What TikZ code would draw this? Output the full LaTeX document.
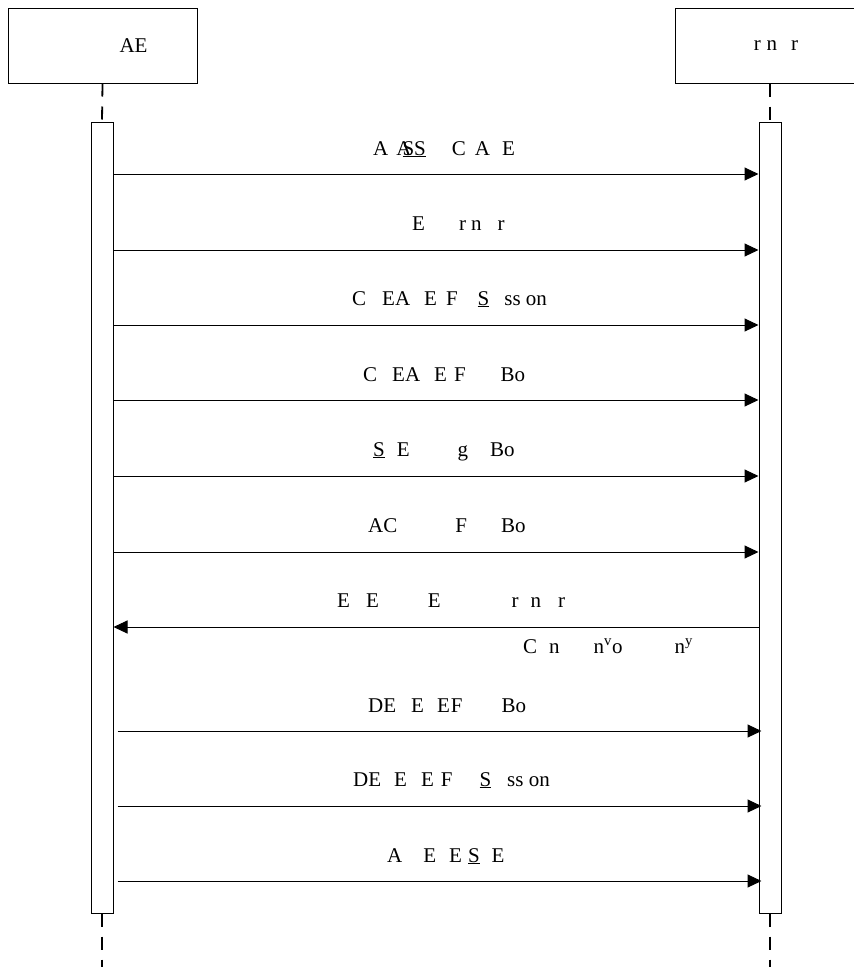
\documentclass[tikz,border=0pt]{standalone}
\usepackage{fontspec}
\setmainfont{Liberation Serif}
\usetikzlibrary{arrows.meta}

\begin{document}
\begin{tikzpicture}[inner sep=0pt,
  lifebox/.style={draw, line width=1.0pt, minimum width=189pt, minimum height=75pt, align=center, font=\fontsize{21}{24}\selectfont},
  actbar/.style={draw, fill=white, line width=1.0pt, minimum width=22pt, minimum height=791pt},
  lifeline/.style={line width=1.8pt, dash pattern=on 13pt off 10pt},
  msg/.style={-{Triangle[length=14pt,width=13pt]}, line width=1.0pt},
  lbl/.style={anchor=base west, font=\fontsize{21}{24}\selectfont}]
\useasboundingbox (0pt,0pt) rectangle (854pt,-967pt);
% heads and activation bars
\node (n0) [lifebox, at={(102.5pt,-45.5pt)}] {\hspace*{62pt}AE};
\node (n1) [lifebox, at={(770pt,-45.5pt)}] {\hspace*{12pt}r\hspace{6pt}n\hspace{14pt}r};
\node (n2) [actbar, at={(102pt,-517.5pt)}] {};
\node (n3) [actbar, at={(770pt,-517.5pt)}] {};
\coordinate (e0) at (102pt,-967pt);
\coordinate (e1) at (770pt,-967pt);
\path [lifeline,draw,](n0.south)--(n2.north);
\path [lifeline,draw,](n1.south)--(n3.north);
\path [lifeline,draw,](n2.south)--(e0);
\path [lifeline,draw,](n3.south)--(e1);
% message heights
\coordinate (m1) at (0pt,-174pt);
\coordinate (m2) at (0pt,-250pt);
\coordinate (m3) at (0pt,-325pt);
\coordinate (m4) at (0pt,-400pt);
\coordinate (m5) at (0pt,-476pt);
\coordinate (m6) at (0pt,-552pt);
\coordinate (m7) at (0pt,-627pt);
\coordinate (m8) at (0pt,-731pt);
\coordinate (m9) at (0pt,-806pt);
\coordinate (m10) at (0pt,-881pt);
% labels
\node (n01) [lbl, at={(373pt,-155pt)}] {A\hspace{8pt}A\hspace{-9pt}\underline{SS}\hspace{26pt}C\hspace{9pt}A\hspace{12pt}E};
\node (n02) [lbl, at={(412pt,-230pt)}] {E\hspace{34pt}r\hspace{5pt}n\hspace{16pt}r};
\node (n03) [lbl, at={(352pt,-305pt)}] {C\hspace{16pt}EA\hspace{14pt}E\hspace{9pt}F\hspace{20pt}\underline{S}\hspace{15pt}ss on};
\node (n04) [lbl, at={(363pt,-381pt)}] {C\hspace{15pt}EA\hspace{14pt}E\hspace{7pt}F\hspace{35pt}Bo};
\node (n05) [lbl, at={(373pt,-456pt)}] {\underline{S}\hspace{12pt}E\hspace{48pt}g\hspace{22pt}Bo};
\node (n06) [lbl, at={(368pt,-532pt)}] {AC\hspace{58pt}F\hspace{34pt}Bo};
\node (n07) [lbl, at={(337pt,-607pt)}] {E\hspace{16pt}E\hspace{49pt}E\hspace{71pt}r\hspace{12pt}n\hspace{17pt}r};
\node (n08) [lbl, at={(523pt,-653pt)}] {C\hspace{12pt}n\hspace{34pt}n\textsuperscript{v}o\hspace{52pt}n\textsuperscript{y}};
\node (n09) [lbl, at={(368pt,-712pt)}] {DE\hspace{15pt}E\hspace{13pt}E\hspace{1pt}F\hspace{39pt}Bo};
\node (n010) [lbl, at={(353pt,-786pt)}] {DE\hspace{13pt}E\hspace{14pt}E\hspace{7pt}F\hspace{27pt}\underline{S}\hspace{16pt}ss on};
\node (n011) [lbl, at={(387pt,-862pt)}] {A\hspace{21pt}E\hspace{13pt}E\hspace{6pt}\underline{S}\hspace{12pt}E};
% messages
\path [msg,draw,](n2.east |- m1)--(n3.west |- m1);
\path [msg,draw,](n2.east |- m2)--(n3.west |- m2);
\path [msg,draw,](n2.east |- m3)--(n3.west |- m3);
\path [msg,draw,](n2.east |- m4)--(n3.west |- m4);
\path [msg,draw,](n2.east |- m5)--(n3.west |- m5);
\path [msg,draw,](n2.east |- m6)--(n3.west |- m6);
\path [msg,draw,](n3.west |- m7)--(n2.east |- m7);
\path [msg,draw,]([xshift=4pt]n2.east |- m8)--([xshift=3pt]n3.west |- m8);
\path [msg,draw,]([xshift=4pt]n2.east |- m9)--([xshift=3pt]n3.west |- m9);
\path [msg,draw,]([xshift=4pt]n2.east |- m10)--([xshift=3pt]n3.west |- m10);
\end{tikzpicture}
\end{document}
